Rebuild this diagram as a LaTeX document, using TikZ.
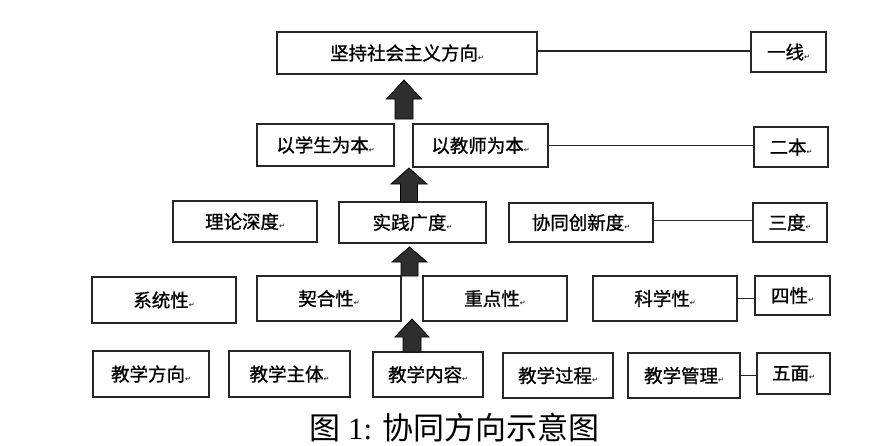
\documentclass[tikz,border=0pt]{standalone}
\usepackage{fontspec}
\setmainfont{Liberation Serif}
\newfontfamily\cjk{Noto Sans CJK SC}[FakeBold=1]
\newfontfamily\cjkcap{Noto Sans CJK SC}
\newfontfamily\symf{DejaVu Sans}
\newcommand\retmark{{\symf\fontsize{7}{7}\selectfont ↵}}
\newcommand\mybox[6]{\node[box,minimum width={(#4-#2)*1pt},minimum height={(#5-#3)*1pt}] (#1) at ({(#2+#4)/2},{(#3+#5)/2}) {#6\retmark};}
\newcommand\uparr[7]{\draw[blk] (#2,#3) -- (#2+#5,#4) -- (#2+#6,#4) -- (#2+#6,#7) -- (#2-#6,#7) -- (#2-#6,#4) -- (#2-#5,#4) -- cycle;}
\begin{document}
\begin{tikzpicture}[x=1pt,y=-1pt,
  box/.style={draw=black!85, line width=1.3pt, inner sep=0pt, font=\cjk\fontsize{18.5}{21}\selectfont},
  link/.style={draw=black!85, line width=1.3pt},
  blk/.style={fill=black!82, draw=black, line width=0.8pt}]
\useasboundingbox (0,0) rectangle (896,445);
\fill[white] (0,0) rectangle (896,445);
% row 1
\mybox{A}{277}{32}{537}{74}{坚持社会主义方向}
\mybox{B}{751}{32}{826}{72}{一线}
% row 2
\mybox{C}{257}{124}{394}{166}{以学生为本}
\mybox{D}{413}{124}{548}{167}{以教师为本}
\mybox{E}{754}{127}{828}{167}{二本}
% row 3
\mybox{F}{173}{201}{317}{242}{理论深度}
\mybox{G}{339}{202}{486}{243}{实践广度}
\mybox{H}{509}{203}{653}{242}{协同创新度}
\mybox{I}{753}{203}{827}{242}{三度}
% row 4
\mybox{J}{92}{277}{236}{323}{系统性}
\mybox{K}{257}{276}{401}{321}{契合性}
\mybox{L}{423}{276}{567}{321}{重点性}
\mybox{M}{593}{276}{737}{321}{科学性}
\mybox{N}{755}{276}{830}{315}{四性}
% row 5
\mybox{O}{93}{351}{209}{397}{教学方向}
\mybox{P}{229}{351}{350}{397}{教学主体}
\mybox{Q}{373}{352}{483}{397}{教学内容}
\mybox{R}{503}{353}{613}{398}{教学过程}
\mybox{S}{628}{353}{740}{398}{教学管理}
\mybox{T}{757}{353}{830}{394}{五面}
% connectors (horizontal)
\draw[link] ([yshift=2pt]A.east) -- ([yshift=2pt]A.east -| B.west);
\draw[link] (D.east) -- (D.east -| E.west);
\draw[link] ([yshift=2pt]H.east) -- ([yshift=2pt]H.east -| I.west);
\draw[link] (M.east) -- (M.east -| N.west);
\draw[link] (S.east) -- (S.east -| T.west);
% block arrows
\uparr{a1}{404}{80}{99}{17.5}{9}{119}
\uparr{a2}{409}{168}{184}{18}{8.5}{202}
\uparr{a3}{409.5}{247}{262}{17.5}{8.5}{276}
\uparr{a4}{412}{319}{337}{17}{9}{352}
% caption
\node[anchor=base, inner sep=0pt, font=\fontsize{31}{34}\selectfont] (cap) at (454.5,439) {{\cjkcap 图} 1: {\cjkcap 协同方向示意图}};
\end{tikzpicture}
\end{document}
